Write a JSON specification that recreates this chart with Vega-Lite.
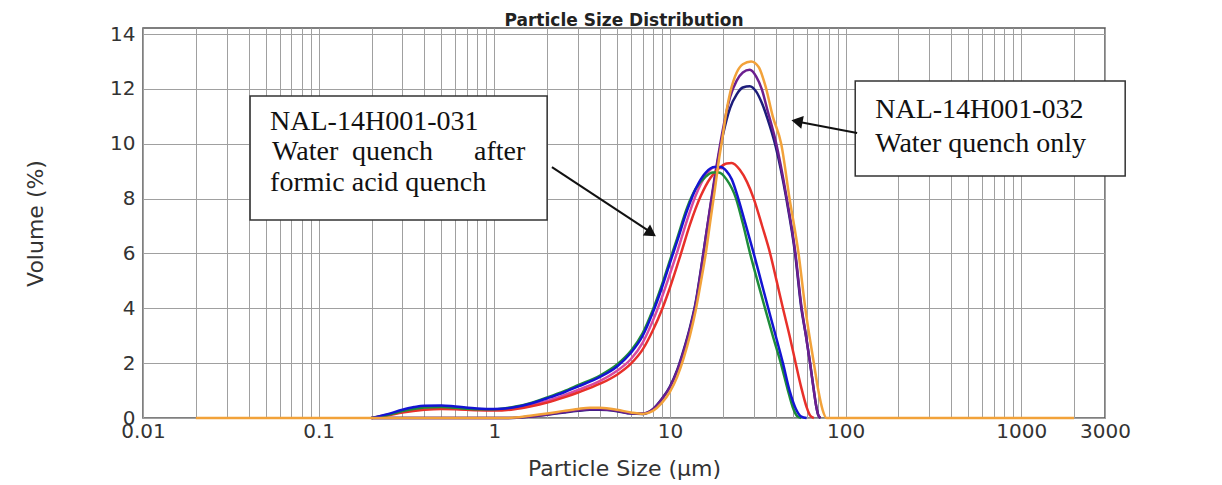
{
  "$schema": "https://vega.github.io/schema/vega-lite/v6.json",
  "autosize": {"type": "none"},
  "width": 962,
  "height": 390,
  "padding": {"left": 143, "top": 28, "right": 117, "bottom": 67},
  "background": "white",
  "title": {"text": "Particle Size Distribution", "font": "DejaVu Sans", "fontSize": 17, "fontWeight": "bold", "color": "#222", "offset": -6, "anchor": "middle"},
  "config": {
    "view": {"stroke": "#555", "strokeWidth": 1.5},
    "axis": {"labelFont": "DejaVu Sans", "titleFont": "DejaVu Sans", "labelColor": "#333", "titleColor": "#333", "gridColor": "#a0a0a0", "gridWidth": 1, "gridOpacity": 1, "domain": false, "ticks": false}
  },
  "datasets": {
    "curves": [
      {"s": "032n", "x": 0.2, "y": 0}, {"s": "032n", "x": 1.2, "y": 0}, {"s": "032n", "x": 1.6, "y": 0.05}, {"s": "032n", "x": 2, "y": 0.12}, {"s": "032n", "x": 2.5, "y": 0.2}, {"s": "032n", "x": 3, "y": 0.26}, {"s": "032n", "x": 3.5, "y": 0.3}, {"s": "032n", "x": 4, "y": 0.3}, {"s": "032n", "x": 5, "y": 0.25}, {"s": "032n", "x": 6, "y": 0.16}, {"s": "032n", "x": 7, "y": 0.15}, {"s": "032n", "x": 8, "y": 0.32}, {"s": "032n", "x": 9, "y": 0.7}, {"s": "032n", "x": 10, "y": 1.15}, {"s": "032n", "x": 11, "y": 1.75}, {"s": "032n", "x": 12, "y": 2.5}, {"s": "032n", "x": 13, "y": 3.3}, {"s": "032n", "x": 14, "y": 4.2}, {"s": "032n", "x": 15, "y": 5.4}, {"s": "032n", "x": 16, "y": 6.6}, {"s": "032n", "x": 17, "y": 7.7}, {"s": "032n", "x": 18, "y": 8.7}, {"s": "032n", "x": 19, "y": 9.6}, {"s": "032n", "x": 20, "y": 10.3}, {"s": "032n", "x": 22, "y": 11.3}, {"s": "032n", "x": 24, "y": 11.8}, {"s": "032n", "x": 26, "y": 12.05}, {"s": "032n", "x": 28.5, "y": 12.1}, {"s": "032n", "x": 31, "y": 11.9}, {"s": "032n", "x": 33.3, "y": 11.5}, {"s": "032n", "x": 36, "y": 10.9}, {"s": "032n", "x": 40, "y": 9.9}, {"s": "032n", "x": 46, "y": 8.0}, {"s": "032n", "x": 51.6, "y": 6.0}, {"s": "032n", "x": 56, "y": 4.0}, {"s": "032n", "x": 59.5, "y": 3.0}, {"s": "032n", "x": 62.8, "y": 2.0}, {"s": "032n", "x": 66, "y": 1.0}, {"s": "032n", "x": 68, "y": 0.45}, {"s": "032n", "x": 70, "y": 0.1}, {"s": "032n", "x": 72, "y": 0},
      {"s": "032p", "x": 0.2, "y": 0}, {"s": "032p", "x": 1.2, "y": 0}, {"s": "032p", "x": 1.6, "y": 0.05}, {"s": "032p", "x": 2, "y": 0.13}, {"s": "032p", "x": 2.5, "y": 0.22}, {"s": "032p", "x": 3, "y": 0.28}, {"s": "032p", "x": 3.5, "y": 0.32}, {"s": "032p", "x": 4, "y": 0.32}, {"s": "032p", "x": 5, "y": 0.26}, {"s": "032p", "x": 6, "y": 0.17}, {"s": "032p", "x": 7, "y": 0.16}, {"s": "032p", "x": 8, "y": 0.32}, {"s": "032p", "x": 9, "y": 0.68}, {"s": "032p", "x": 10, "y": 1.12}, {"s": "032p", "x": 11, "y": 1.72}, {"s": "032p", "x": 12, "y": 2.45}, {"s": "032p", "x": 13, "y": 3.25}, {"s": "032p", "x": 14, "y": 4.15}, {"s": "032p", "x": 15, "y": 5.35}, {"s": "032p", "x": 16, "y": 6.6}, {"s": "032p", "x": 17, "y": 7.75}, {"s": "032p", "x": 18, "y": 8.8}, {"s": "032p", "x": 19, "y": 9.7}, {"s": "032p", "x": 20, "y": 10.5}, {"s": "032p", "x": 22, "y": 11.7}, {"s": "032p", "x": 24, "y": 12.3}, {"s": "032p", "x": 26, "y": 12.6}, {"s": "032p", "x": 28.5, "y": 12.7}, {"s": "032p", "x": 31, "y": 12.45}, {"s": "032p", "x": 33.3, "y": 12.0}, {"s": "032p", "x": 36, "y": 11.2}, {"s": "032p", "x": 40, "y": 10.1}, {"s": "032p", "x": 46, "y": 8.1}, {"s": "032p", "x": 51.6, "y": 6.1}, {"s": "032p", "x": 56, "y": 4.1}, {"s": "032p", "x": 59.5, "y": 3.0}, {"s": "032p", "x": 62.8, "y": 2.0}, {"s": "032p", "x": 66, "y": 1.0}, {"s": "032p", "x": 68, "y": 0.45}, {"s": "032p", "x": 70, "y": 0.1}, {"s": "032p", "x": 72, "y": 0},
      {"s": "031m", "x": 0.2, "y": 0}, {"s": "031m", "x": 0.3, "y": 0.22}, {"s": "031m", "x": 0.4, "y": 0.33}, {"s": "031m", "x": 0.5, "y": 0.36}, {"s": "031m", "x": 0.7, "y": 0.32}, {"s": "031m", "x": 1.0, "y": 0.3}, {"s": "031m", "x": 1.3, "y": 0.35}, {"s": "031m", "x": 1.6, "y": 0.46}, {"s": "031m", "x": 2, "y": 0.62}, {"s": "031m", "x": 2.5, "y": 0.83}, {"s": "031m", "x": 3, "y": 1.02}, {"s": "031m", "x": 4, "y": 1.35}, {"s": "031m", "x": 5, "y": 1.72}, {"s": "031m", "x": 6, "y": 2.15}, {"s": "031m", "x": 7, "y": 2.75}, {"s": "031m", "x": 8, "y": 3.55}, {"s": "031m", "x": 9, "y": 4.4}, {"s": "031m", "x": 10, "y": 5.25}, {"s": "031m", "x": 11, "y": 6.05}, {"s": "031m", "x": 12.5, "y": 7.2}, {"s": "031m", "x": 14, "y": 8.1}, {"s": "031m", "x": 16, "y": 8.85}, {"s": "031m", "x": 18, "y": 9.15}, {"s": "031m", "x": 20, "y": 9.1},
      {"s": "031r", "x": 0.2, "y": 0}, {"s": "031r", "x": 0.25, "y": 0.1}, {"s": "031r", "x": 0.3, "y": 0.2}, {"s": "031r", "x": 0.4, "y": 0.3}, {"s": "031r", "x": 0.5, "y": 0.33}, {"s": "031r", "x": 0.6, "y": 0.32}, {"s": "031r", "x": 0.8, "y": 0.28}, {"s": "031r", "x": 1.0, "y": 0.27}, {"s": "031r", "x": 1.3, "y": 0.32}, {"s": "031r", "x": 1.6, "y": 0.42}, {"s": "031r", "x": 2, "y": 0.56}, {"s": "031r", "x": 2.5, "y": 0.75}, {"s": "031r", "x": 3, "y": 0.93}, {"s": "031r", "x": 4, "y": 1.25}, {"s": "031r", "x": 5, "y": 1.58}, {"s": "031r", "x": 6, "y": 1.98}, {"s": "031r", "x": 7, "y": 2.5}, {"s": "031r", "x": 8, "y": 3.2}, {"s": "031r", "x": 9, "y": 3.95}, {"s": "031r", "x": 10, "y": 4.75}, {"s": "031r", "x": 11.5, "y": 5.95}, {"s": "031r", "x": 13, "y": 7.05}, {"s": "031r", "x": 15, "y": 8.1}, {"s": "031r", "x": 17, "y": 8.75}, {"s": "031r", "x": 19, "y": 9.1}, {"s": "031r", "x": 21, "y": 9.28}, {"s": "031r", "x": 22.5, "y": 9.3}, {"s": "031r", "x": 25, "y": 9.05}, {"s": "031r", "x": 27.5, "y": 8.6}, {"s": "031r", "x": 30, "y": 8.0}, {"s": "031r", "x": 33.5, "y": 7.0}, {"s": "031r", "x": 37.2, "y": 6.0}, {"s": "031r", "x": 40.5, "y": 5.0}, {"s": "031r", "x": 44, "y": 4.0}, {"s": "031r", "x": 48, "y": 3.0}, {"s": "031r", "x": 52, "y": 2.0}, {"s": "031r", "x": 56, "y": 1.1}, {"s": "031r", "x": 60, "y": 0.4}, {"s": "031r", "x": 63, "y": 0.08}, {"s": "031r", "x": 66, "y": 0},
      {"s": "031g", "x": 0.2, "y": 0}, {"s": "031g", "x": 0.25, "y": 0.12}, {"s": "031g", "x": 0.3, "y": 0.25}, {"s": "031g", "x": 0.4, "y": 0.38}, {"s": "031g", "x": 0.5, "y": 0.4}, {"s": "031g", "x": 0.6, "y": 0.37}, {"s": "031g", "x": 0.8, "y": 0.32}, {"s": "031g", "x": 1.0, "y": 0.32}, {"s": "031g", "x": 1.3, "y": 0.41}, {"s": "031g", "x": 1.6, "y": 0.54}, {"s": "031g", "x": 2, "y": 0.75}, {"s": "031g", "x": 2.5, "y": 0.98}, {"s": "031g", "x": 3, "y": 1.2}, {"s": "031g", "x": 4, "y": 1.55}, {"s": "031g", "x": 5, "y": 1.95}, {"s": "031g", "x": 6, "y": 2.45}, {"s": "031g", "x": 7, "y": 3.1}, {"s": "031g", "x": 8, "y": 3.95}, {"s": "031g", "x": 9, "y": 4.85}, {"s": "031g", "x": 10, "y": 5.75}, {"s": "031g", "x": 11, "y": 6.55}, {"s": "031g", "x": 12.5, "y": 7.65}, {"s": "031g", "x": 14, "y": 8.35}, {"s": "031g", "x": 16, "y": 8.8}, {"s": "031g", "x": 17.5, "y": 8.95}, {"s": "031g", "x": 19, "y": 8.95}, {"s": "031g", "x": 21, "y": 8.7}, {"s": "031g", "x": 23.8, "y": 8.0}, {"s": "031g", "x": 26, "y": 7.1}, {"s": "031g", "x": 28.6, "y": 6.0}, {"s": "031g", "x": 31.5, "y": 5.0}, {"s": "031g", "x": 34.8, "y": 4.0}, {"s": "031g", "x": 38.5, "y": 3.0}, {"s": "031g", "x": 42.8, "y": 2.0}, {"s": "031g", "x": 47, "y": 1.0}, {"s": "031g", "x": 50, "y": 0.4}, {"s": "031g", "x": 53, "y": 0.07}, {"s": "031g", "x": 56, "y": 0},
      {"s": "031b", "x": 0.2, "y": 0}, {"s": "031b", "x": 0.25, "y": 0.15}, {"s": "031b", "x": 0.3, "y": 0.3}, {"s": "031b", "x": 0.35, "y": 0.4}, {"s": "031b", "x": 0.4, "y": 0.45}, {"s": "031b", "x": 0.5, "y": 0.46}, {"s": "031b", "x": 0.6, "y": 0.42}, {"s": "031b", "x": 0.8, "y": 0.35}, {"s": "031b", "x": 1.0, "y": 0.33}, {"s": "031b", "x": 1.3, "y": 0.39}, {"s": "031b", "x": 1.6, "y": 0.52}, {"s": "031b", "x": 2, "y": 0.72}, {"s": "031b", "x": 2.5, "y": 0.94}, {"s": "031b", "x": 3, "y": 1.15}, {"s": "031b", "x": 4, "y": 1.5}, {"s": "031b", "x": 5, "y": 1.88}, {"s": "031b", "x": 6, "y": 2.38}, {"s": "031b", "x": 7, "y": 3.0}, {"s": "031b", "x": 8, "y": 3.85}, {"s": "031b", "x": 9, "y": 4.75}, {"s": "031b", "x": 10, "y": 5.65}, {"s": "031b", "x": 11, "y": 6.45}, {"s": "031b", "x": 12.5, "y": 7.55}, {"s": "031b", "x": 14, "y": 8.35}, {"s": "031b", "x": 16, "y": 8.95}, {"s": "031b", "x": 18, "y": 9.15}, {"s": "031b", "x": 19.5, "y": 9.15}, {"s": "031b", "x": 21, "y": 9.0}, {"s": "031b", "x": 22.5, "y": 8.7}, {"s": "031b", "x": 24.5, "y": 8.0}, {"s": "031b", "x": 27, "y": 7.05}, {"s": "031b", "x": 30, "y": 6.0}, {"s": "031b", "x": 33, "y": 5.0}, {"s": "031b", "x": 36.3, "y": 4.0}, {"s": "031b", "x": 40, "y": 3.0}, {"s": "031b", "x": 44, "y": 2.0}, {"s": "031b", "x": 48, "y": 1.0}, {"s": "031b", "x": 52, "y": 0.35}, {"s": "031b", "x": 56, "y": 0.05}, {"s": "031b", "x": 60, "y": 0},
      {"s": "032o", "x": 0.02, "y": 0}, {"s": "032o", "x": 1.2, "y": 0}, {"s": "032o", "x": 1.6, "y": 0.08}, {"s": "032o", "x": 2, "y": 0.16}, {"s": "032o", "x": 2.5, "y": 0.26}, {"s": "032o", "x": 3, "y": 0.33}, {"s": "032o", "x": 3.5, "y": 0.37}, {"s": "032o", "x": 4, "y": 0.37}, {"s": "032o", "x": 5, "y": 0.3}, {"s": "032o", "x": 6, "y": 0.2}, {"s": "032o", "x": 7, "y": 0.15}, {"s": "032o", "x": 8, "y": 0.26}, {"s": "032o", "x": 9, "y": 0.55}, {"s": "032o", "x": 10, "y": 0.95}, {"s": "032o", "x": 11, "y": 1.5}, {"s": "032o", "x": 12, "y": 2.2}, {"s": "032o", "x": 13, "y": 3.0}, {"s": "032o", "x": 14, "y": 3.9}, {"s": "032o", "x": 15, "y": 4.95}, {"s": "032o", "x": 16, "y": 6.0}, {"s": "032o", "x": 17, "y": 7.2}, {"s": "032o", "x": 18, "y": 8.3}, {"s": "032o", "x": 19, "y": 9.4}, {"s": "032o", "x": 20, "y": 10.3}, {"s": "032o", "x": 21, "y": 11.2}, {"s": "032o", "x": 22, "y": 11.85}, {"s": "032o", "x": 24, "y": 12.6}, {"s": "032o", "x": 26, "y": 12.9}, {"s": "032o", "x": 29, "y": 13.0}, {"s": "032o", "x": 32, "y": 12.8}, {"s": "032o", "x": 35, "y": 12.1}, {"s": "032o", "x": 38.5, "y": 11.0}, {"s": "032o", "x": 43, "y": 10.0}, {"s": "032o", "x": 48, "y": 8.0}, {"s": "032o", "x": 54, "y": 6.0}, {"s": "032o", "x": 59, "y": 4.0}, {"s": "032o", "x": 66, "y": 2.0}, {"s": "032o", "x": 70, "y": 1.0}, {"s": "032o", "x": 74, "y": 0.3}, {"s": "032o", "x": 78, "y": 0}, {"s": "032o", "x": 2000, "y": 0}
    ],
    "boxes": [
      {"id": "031", "x": 0.0407, "x2": 2.0, "y": 11.74, "y2": 7.22},
      {"id": "032", "x": 113.5, "x2": 3909, "y": 12.29, "y2": 8.82}
    ],
    "notes": [
      {"t": "NAL-14H001-031", "x": 0.0529, "y": 10.5},
      {"t": "Water", "x": 0.0543, "y": 9.41},
      {"t": "quench", "x": 0.155, "y": 9.41},
      {"t": "after", "x": 0.767, "y": 9.41},
      {"t": "formic acid quench", "x": 0.0529, "y": 8.28},
      {"t": "NAL-14H001-032", "x": 147.5, "y": 10.94},
      {"t": "Water quench only", "x": 147.5, "y": 9.7}
    ],
    "arrows": [
      {"a": "031", "x": 2.13, "y": 9.15, "x2": 8.0, "y2": 6.72},
      {"a": "032", "x": 116.4, "y": 10.39, "x2": 51.0, "y2": 10.83}
    ],
    "heads": [
      {"a": "031", "x": 7.82, "y": 6.74},
      {"a": "032", "x": 52.9, "y": 10.82}
    ]
  },
  "layer": [
    {
      "data": {"name": "boxes"},
      "mark": {"type": "rect", "fill": "white", "stroke": "#333", "strokeWidth": 1.5},
      "encoding": {
        "x": {"field": "x", "type": "quantitative", "scale": {"type": "log", "domain": [0.01, 3000], "nice": false},
          "axis": {"values": [0.01,0.02,0.03,0.04,0.05,0.06,0.07,0.08,0.09,0.1,0.2,0.3,0.4,0.5,0.6,0.7,0.8,0.9,1,2,3,4,5,6,7,8,9,10,20,30,40,50,60,70,80,90,100,200,300,400,500,600,700,800,900,1000,2000,3000],
            "format": "~g", "labelExpr": "indexof([0.01,0.1,1,10,100,1000,3000], datum.value) >= 0 ? datum.label : ''",
            "labelOverlap": false, "labelFlush": false, "labelBound": false, "labelFontSize": 20, "labelPadding": 3,
            "title": "Particle Size (µm)", "titleFontSize": 22, "titleFontWeight": "normal", "titlePadding": 17, "grid": true}},
        "x2": {"field": "x2"},
        "y": {"field": "y", "type": "quantitative", "scale": {"domain": [0, 14.22], "nice": false},
          "axis": {"values": [0,2,4,6,8,10,12,14], "labelFontSize": 20, "labelPadding": 8,
            "title": "Volume (%)", "titleFontSize": 22, "titleFontWeight": "normal", "titlePadding": 62, "grid": true}},
        "y2": {"field": "y2"}
      }
    },
    {
      "data": {"name": "notes"},
      "mark": {"type": "text", "font": "Liberation Serif", "fontSize": 28, "align": "left", "baseline": "alphabetic", "color": "#111"},
      "encoding": {
        "x": {"field": "x", "type": "quantitative"},
        "y": {"field": "y", "type": "quantitative"},
        "text": {"field": "t"}
      }
    },
    {
      "data": {"name": "arrows"},
      "mark": {"type": "rule", "color": "#111", "strokeWidth": 2},
      "encoding": {
        "x": {"field": "x", "type": "quantitative"},
        "y": {"field": "y", "type": "quantitative"},
        "x2": {"field": "x2"},
        "y2": {"field": "y2"}
      }
    },
    {
      "data": {"name": "heads"},
      "mark": {"type": "point", "shape": "triangle-right", "filled": true, "color": "#111", "size": 170, "opacity": 1},
      "encoding": {
        "x": {"field": "x", "type": "quantitative"},
        "y": {"field": "y", "type": "quantitative"},
        "angle": {"field": "a", "type": "nominal", "scale": {"domain": ["031", "032"], "range": [33.7, 191]}, "legend": null}
      }
    },
    {
      "data": {"name": "curves"},
      "mark": {"type": "line", "strokeWidth": 2.5, "interpolate": "monotone"},
      "encoding": {
        "x": {"field": "x", "type": "quantitative"},
        "y": {"field": "y", "type": "quantitative"},
        "color": {"field": "s", "type": "nominal", "legend": null,
          "scale": {"domain": ["032n", "032p", "031m", "031r", "031g", "031b", "032o"], "range": ["#1c1c7a", "#6b1f8f", "#d84aa0", "#e8302a", "#1e8c3a", "#1414d2", "#f2a23a"]}}
      }
    }
  ]
}
